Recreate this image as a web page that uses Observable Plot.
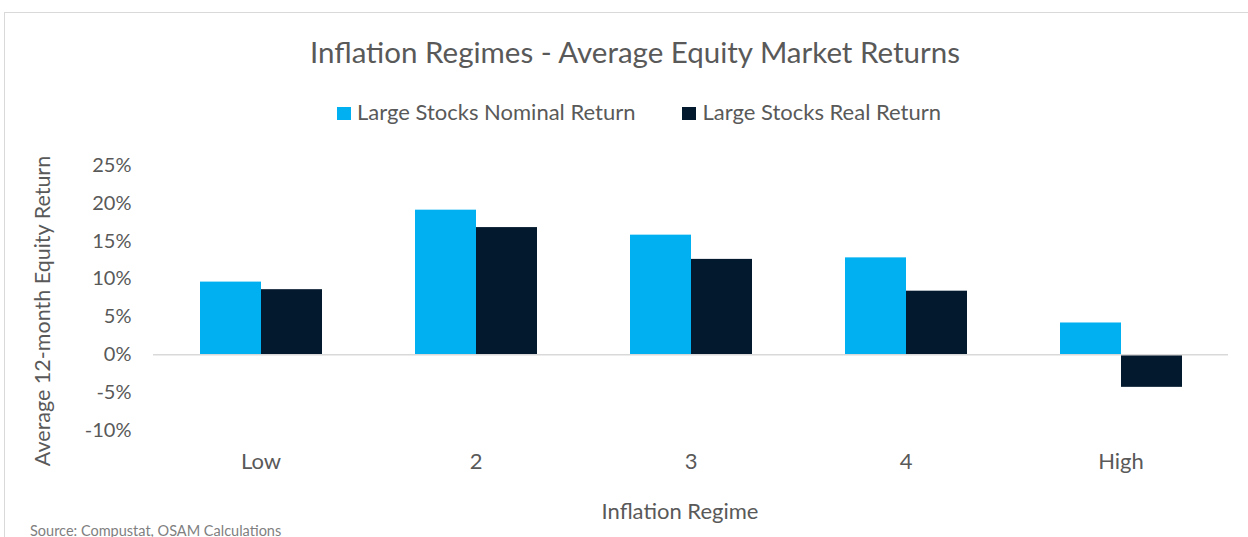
<!DOCTYPE html>
<html>
<head>
<meta charset="utf-8">
<script src="https://cdn.jsdelivr.net/npm/d3@7"></script>
<script src="https://cdn.jsdelivr.net/npm/@observablehq/plot@0.6"></script>
<style>
  html, body { margin: 0; padding: 0; background: #fff; }
  body { width: 1248px; height: 537px; position: relative; overflow: hidden; font-family: Lato, "Open Sans", sans-serif; color: #595959; }
  #frame { position: absolute; left: 4px; top: 12px; width: 1300px; height: 600px; border-top: 1.5px solid #d9d9d9; border-left: 1.5px solid #d9d9d9; box-sizing: border-box; }
  #title { position: absolute; top: 32px; left: 0; width: 1270px; text-align: center; font-size: 29.5px; line-height: 40px; white-space: nowrap; }
  #legend { position: absolute; top: 99px; left: 337px; font-size: 22px; line-height: 26px; display: flex; align-items: center; white-space: nowrap; }
  .sw { display: inline-block; width: 14px; height: 13px; margin-right: 6px; margin-top: 3px; }
  #chart { position: absolute; left: 0; top: 140px; }
  .axis-title { position: absolute; font-size: 22px; line-height: 26px; white-space: nowrap; transform: translate(-50%, -50%); }
  #ylabel { left: 42px; top: 311px; transform: translate(-50%, -50%) rotate(-90deg); font-size: 21.5px; }
  #xlabel { left: 680px; top: 511px; }
  #source { position: absolute; left: 30px; top: 524px; font-size: 14.5px; line-height: 14.5px; color: #7f7f7f; white-space: nowrap; }
</style>
</head>
<body>
<div id="frame"></div>
<div id="title"></div>
<div id="legend"></div>
<div id="chart"></div>
<div id="ylabel" class="axis-title"></div>
<div id="xlabel" class="axis-title"></div>
<div id="source"></div>
<script>
const titleText = "Inflation Regimes - Average Equity Market Returns";
const categories = ["Low", "2", "3", "4", "High"];
const seriesNames = ["Large Stocks Nominal Return", "Large Stocks Real Return"];
const nominalReturn = [9.6, 19.1, 15.8, 12.8, 4.2];
const realReturn = [8.6, 16.8, 12.6, 8.4, -4.3];
const seriesColors = ["#00B0F0", "#03192D"];
const yTicks = [-10, -5, 0, 5, 10, 15, 20, 25];
const yLabel = "Average 12-month Equity Return";
const xLabel = "Inflation Regime";
const sourceText = "Source: Compustat, OSAM Calculations";

document.getElementById("title").textContent = titleText;
document.getElementById("source").textContent = sourceText;
document.getElementById("ylabel").textContent = yLabel;
document.getElementById("xlabel").textContent = xLabel;

const legend = document.getElementById("legend");
seriesNames.forEach((name, i) => {
  const item = document.createElement("span");
  item.style.display = "inline-flex";
  item.style.alignItems = "center";
  item.style.marginRight = i === 0 ? "47px" : "0";
  const sw = document.createElement("span");
  sw.className = "sw";
  sw.style.background = seriesColors[i];
  item.appendChild(sw);
  item.appendChild(document.createTextNode(name));
  legend.appendChild(item);
});

const data = [];
categories.forEach((c, i) => {
  data.push({category: c, series: seriesNames[0], value: nominalReturn[i]});
  data.push({category: c, series: seriesNames[1], value: realReturn[i]});
});

const chart = Plot.plot({
  width: 1248,
  height: 390,
  marginLeft: 152,
  marginRight: 20,
  marginTop: 25,
  marginBottom: 100,
  style: {fontFamily: "Lato, 'Open Sans', sans-serif", fontSize: "20px", color: "#595959", background: "transparent", overflow: "visible"},
  fx: {domain: categories, padding: 0, label: null},
  x: {domain: seriesNames, axis: null, paddingInner: 0, paddingOuter: 0.735},
  y: {domain: [-10, 25], ticks: yTicks, tickFormat: d => `${d}%`, tickSize: 0, tickPadding: 22, label: null, grid: false},
  color: {domain: seriesNames, range: seriesColors},
  marks: [
    Plot.axisFx({anchor: "bottom", tickSize: 0, tickPadding: 23, fontSize: 22, label: null}),
    Plot.barY(data, {fx: "category", x: "series", y: "value", fill: "series"}),
    Plot.ruleY([0], {stroke: "#d9d9d9", strokeWidth: 1.5})
  ]
});
document.getElementById("chart").appendChild(chart);
</script>
</body>
</html>
